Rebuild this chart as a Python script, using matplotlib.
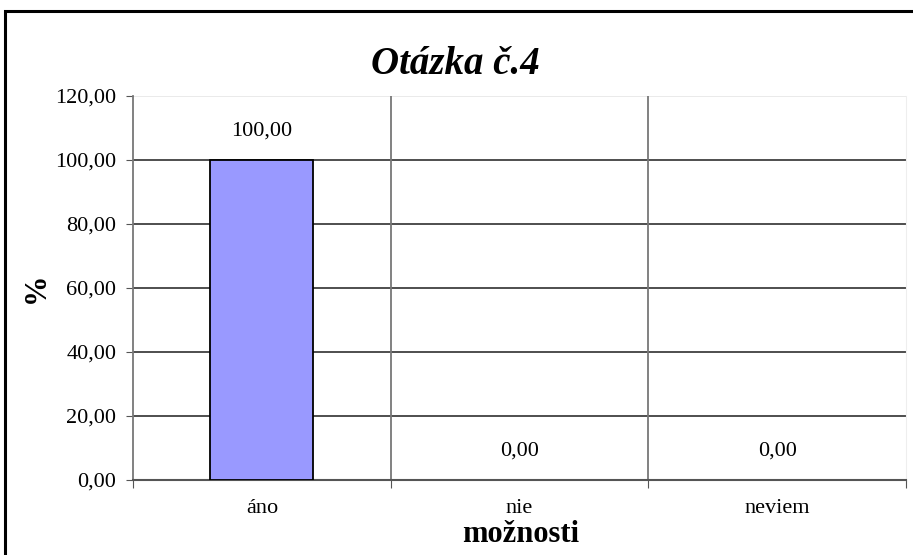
import numpy as np
import matplotlib.pyplot as plt
from matplotlib.patches import Rectangle
from matplotlib.ticker import FuncFormatter

# data
categories = ['áno', 'nie', 'neviem']
values = [100.00, 0.00, 0.00]
title = 'Otázka č.4'
xlabel = 'možnosti'
ylabel = '%'

W, H = 913, 555
fig = plt.figure(figsize=(W / 100, H / 100), dpi=100)
plt.rcParams['font.family'] = ['Liberation Serif', 'DejaVu Serif']

# plot area in pixels: left 133, right 906, top 96, bottom 480
ax = fig.add_axes([133 / W, 1 - 480 / H, (906 - 133) / W, (480 - 96) / H])

x = np.arange(len(categories))
edges = ['black' if v > 0 else 'none' for v in values]
ax.bar(x, values, width=0.4, color='#9999ff', edgecolor=edges, linewidth=1.3, zorder=3)

for xi, v in zip(x, values):
    ax.text(xi, v + 6.0, ('%.2f' % v).replace('.', ','), ha='center', va='bottom', fontsize=16)

ax.set_xlim(-0.5, len(categories) - 0.5)
ax.set_ylim(0, 120)
ax.set_yticks(np.arange(0, 121, 20))
ax.yaxis.set_major_formatter(FuncFormatter(lambda v, p: ('%.2f' % v).replace('.', ',')))

# category boundary ticks, labels in the middle
ax.set_xticks(np.arange(-0.5, len(categories), 1.0))
ax.set_xticklabels([])
ax.set_xticks(x, minor=True)
ax.set_xticklabels(categories, minor=True, fontsize=16)
ax.tick_params(axis='x', which='minor', length=0, pad=14)
ax.tick_params(axis='x', which='major', length=6, color='#555555', direction='out')
ax.tick_params(axis='y', length=5, color='#555555', direction='out', labelsize=16, pad=7)

# grid
for yv in np.arange(20, 101, 20):
    ax.axhline(yv, color='#404040', lw=1.3, zorder=1)
ax.axhline(120, color='#e6e6e6', lw=1.2, zorder=1)
for xv in [0.5, 1.5]:
    ax.axvline(xv, color='#777777', lw=1.3, zorder=1)

ax.spines['top'].set_visible(False)
ax.spines['right'].set_color('#eeeeee')
ax.spines['left'].set_color('#777777')
ax.spines['left'].set_linewidth(1.3)
ax.spines['bottom'].set_color('#555555')
ax.spines['bottom'].set_linewidth(1.5)

ax.set_ylabel(ylabel, fontsize=22, fontweight='bold')
ax.yaxis.set_label_coords(-82 / (906 - 133), 0.5)
fig.text(521 / W, 1 - 535 / H, xlabel, ha='center', va='center', fontsize=22, fontweight='bold')
fig.text(455 / W, 1 - 64 / H, title, ha='center', va='center', fontsize=28,
         fontweight='bold', fontstyle='italic')

# chart border
fig.patches.append(Rectangle((5 / W, -0.05), 1.0, 1 - 11 / H + 0.05, transform=fig.transFigure,
                             fill=False, edgecolor='black', lw=2.2))

fig.savefig('out.png', dpi=100)
